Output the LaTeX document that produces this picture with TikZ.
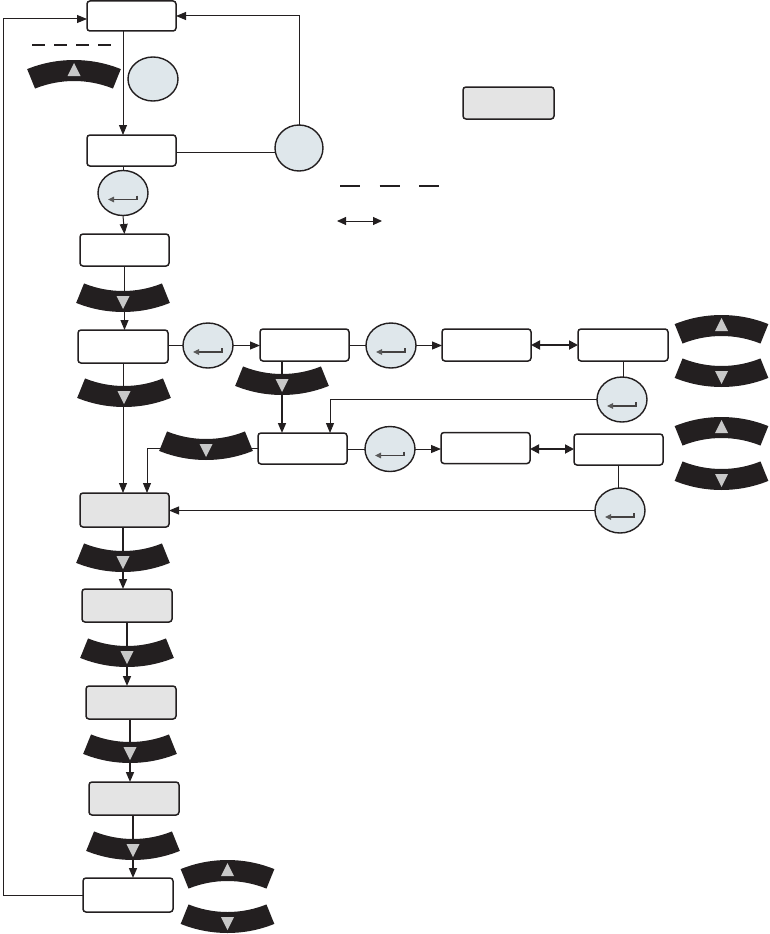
\documentclass[tikz,border=0pt]{standalone}
\usetikzlibrary{arrows.meta,shapes.geometric}
\definecolor{ink}{HTML}{231F20}
\definecolor{boxgray}{HTML}{E4E4E4}
\definecolor{circfill}{HTML}{DFE7EB}
\definecolor{trigray}{HTML}{C8C8C8}
\begin{document}
\begin{tikzpicture}[x=1pt,y=-1pt,
 box/.style={draw=ink,line width=1.5pt,rounded corners=3pt,fill=white,inner sep=0pt,outer sep=0pt},
 gbox/.style={box,fill=boxgray},
 circ/.style={ellipse,draw=ink,line width=1.4pt,fill=circfill,minimum width=50pt,minimum height=45pt,inner sep=0pt,outer sep=0pt},
 conn/.style={draw=ink,line width=1pt},
 thick conn/.style={draw=ink,line width=1.6pt},
 arr/.style={-{Triangle[length=10pt,width=8pt]}},
 dbl/.style={draw=ink,line width=1.8pt,{Triangle[length=9pt,width=9pt]}-{Triangle[length=9pt,width=9pt]}},
 upband/.pic={
  \fill[ink] ([shift={(0pt,-114.5pt)}]112:125pt) arc[start angle=112,end angle=68,radius=125pt]
    -- ([shift={(0pt,-114.5pt)}]68:104pt) arc[start angle=68,end angle=112,radius=104pt] -- cycle;
  \fill[trigray] (0pt,7.5pt) -- (6.5pt,-5.5pt) -- (-6.5pt,-5.5pt) -- cycle;
 },
 dnband/.pic={
  \fill[ink] ([shift={(0pt,114.5pt)}]248:125pt) arc[start angle=248,end angle=292,radius=125pt]
    -- ([shift={(0pt,114.5pt)}]292:104pt) arc[start angle=292,end angle=248,radius=104pt] -- cycle;
  \fill[trigray] (0pt,-7.5pt) -- (6.5pt,5.5pt) -- (-6.5pt,5.5pt) -- cycle;
 },
 entersym/.pic={
  \draw[draw=ink!85,line width=1.2pt,-{Triangle[length=6pt,width=5.5pt,color=gray!70!black]}]
    (14pt,-2.5pt) -- (14pt,-6.5pt) -- (-15pt,-6.5pt);
 }]
\useasboundingbox (0,0) rectangle (770,934);

% boxes
\node[box,minimum width=89pt,minimum height=30pt] (B1) at (131.5,16) {};
\node[box,minimum width=89pt,minimum height=31pt] (B2) at (131.5,150.5) {};
\node[box,minimum width=89pt,minimum height=32pt] (B3) at (124.5,250) {};
\node[box,minimum width=90pt,minimum height=33pt] (B4) at (123,346.5) {};
\node[box,minimum width=89pt,minimum height=32pt] (B5) at (304.5,345) {};
\node[box,minimum width=89pt,minimum height=32pt] (B6) at (486.5,345) {};
\node[box,minimum width=90pt,minimum height=32pt] (B7) at (623,345) {};
\node[box,minimum width=89pt,minimum height=31pt] (B8) at (302.5,448.5) {};
\node[box,minimum width=89pt,minimum height=31pt] (B9) at (485.5,448) {};
\node[box,minimum width=89pt,minimum height=31pt] (B10) at (618.5,449.5) {};
\node[gbox,minimum width=89pt,minimum height=34pt] (B11) at (124.5,510) {};
\node[gbox,minimum width=90pt,minimum height=33pt] (B12) at (127,605.5) {};
\node[gbox,minimum width=90pt,minimum height=33pt] (B13) at (131,702.5) {};
\node[gbox,minimum width=90pt,minimum height=33pt] (B14) at (134,798.5) {};
\node[box,minimum width=90pt,minimum height=34pt] (B15) at (128,895) {};
\node[gbox,minimum width=91pt,minimum height=32pt] (L) at (508.5,103) {};

% circles
\node[circ,minimum width=50pt,minimum height=44pt] (C1) at (153,79) {};
\node[circ,minimum width=48pt,minimum height=46pt] (C2) at (299,148) {};
\node[circ] (E1) at (123,193) {};
\node[circ] (E2) at (208,345.5) {};
\node[circ] (E3) at (391,345.5) {};
\node[circ] (E4) at (622,399.5) {};
\node[circ] (E5) at (390,449) {};
\node[circ] (E6) at (620,510.5) {};
\foreach \e in {E1,E2,E3,E4,E5,E6} { \pic at (\e.center) {entersym}; }

% connectors
\coordinate (LL) at (3,895);
\draw[conn,arr] (B15.west) -- (LL) |- ([yshift=-3pt]B1.west);
\draw[conn,arr] ([xshift=-8.5pt]B1.south) -- ([xshift=-8.5pt]B2.north);
\draw[conn] ([yshift=-1.5pt]B2.east) -- ([yshift=-1.5pt]B2.east -| C2.west);
\draw[conn,arr] (C2.north) |- (B1.east);
\draw[conn] (E1.north |- B2.south) -- (E1.north);
\draw[conn,arr] (E1.south) -- (B3.north);
\draw[conn,arr] (B3.south) -- (B3.south |- B4.north);
\draw[conn] (E2.west -| B4.east) -- (E2.west);
\draw[conn,arr] (E2.east) -- (E2.east -| B5.west);
\draw[conn] (E3.west -| B5.east) -- (E3.west);
\draw[conn,arr] (E3.east) -- (E3.east -| B6.west);
\draw[dbl] (B6.east) -- (B7.west);
\draw[conn] (B7.south) -- (B7.south |- E4.north);
\draw[conn,arr] (E4.west) -| ([xshift=27.5pt]B8.north);
\draw[thick conn,arr] ([xshift=-22.5pt]B5.south) -- ([xshift=-22.5pt]B5.south |- B8.north);
\draw[conn,arr] (B4.south) -- (B4.south |- B11.north);
\draw[conn,arr] (B8.west) -| ([xshift=22.5pt]B11.north);
\draw[conn] (E5.west -| B8.east) -- (E5.west);
\draw[conn,arr] (E5.east) -- (E5.east -| B9.west);
\draw[dbl] ([yshift=-1pt]B9.east) -- ([yshift=-1pt]B9.east -| B10.west);
\draw[conn] (B10.south) -- (B10.south |- E6.north);
\draw[conn,arr] (E6.west) -- (E6.west -| B11.east);
\draw[thick conn,arr] ([xshift=-1.5pt]B11.south) -- ([xshift=-1.5pt]B11.south |- B12.north);
\draw[thick conn,arr] (B12.south) -- (B12.south |- B13.north);
\draw[thick conn,arr] ([xshift=-1pt]B13.south) -- ([xshift=-1pt]B13.south |- B14.north);
\draw[thick conn,arr] ([xshift=-1pt]B14.south) -- ([xshift=-1pt]B14.south |- B15.north);

% legend marks
\coordinate (d1) at (32,45); \coordinate (d2) at (111,45);
\draw[ink,line width=1.3pt,dash pattern=on 13pt off 9pt] (d1) -- (d2);
\coordinate (d3) at (340,186); \coordinate (d4) at (439,186);
\draw[ink,line width=1.3pt,dash pattern=on 20pt off 19.5pt] (d3) -- (d4);
\coordinate (da1) at (337,221); \coordinate (da2) at (382,221);
\draw[ink,line width=1pt,{Triangle[length=9pt,width=8pt]}-{Triangle[length=9pt,width=8pt]}] (da1) -- (da2);

% curved keys
\pic at (74,70.5) {upband};
\pic at (721.5,325.5) {upband};
\pic at (721.5,427.5) {upband};
\pic at (227.5,870.5) {upband};
\pic at (123,301.5) {dnband};
\pic at (124,396.5) {dnband};
\pic at (282,384.5) {dnband};
\pic at (206,449.5) {dnband};
\pic at (721.5,376.5) {dnband};
\pic at (721.5,479.5) {dnband};
\pic at (123,561.5) {dnband};
\pic at (127,656.5) {dnband};
\pic at (130,752.5) {dnband};
\pic at (133,849.5) {dnband};
\pic at (227.5,922.5) {dnband};
\end{tikzpicture}
\end{document}
